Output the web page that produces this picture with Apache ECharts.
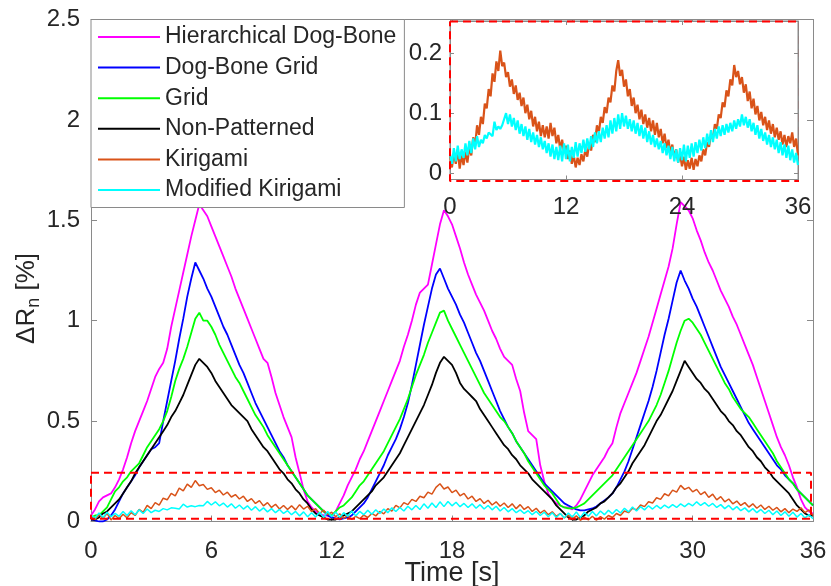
<!DOCTYPE html>
<html>
<head>
<meta charset="utf-8">
<script src="https://cdn.jsdelivr.net/npm/echarts@6/dist/echarts.min.js"></script>
<style>
  html, body { margin: 0; padding: 0; background: #ffffff; }
  #chart { width: 831px; height: 586px; }
</style>
</head>
<body>
<div id="chart"></div>
<script>
// Resistance change ΔRn [%] sampled every 0.2 s over three 12 s load cycles.
const SAMPLE_DT = 0.2;

const seriesNames = [
  'Hierarchical Dog-Bone', 'Dog-Bone Grid', 'Grid',
  'Non-Patterned', 'Kirigami', 'Modified Kirigami'
];

const hierarchicalDogBone = [
  0.03, 0.06, 0.10, 0.12, 0.13, 0.14, 0.17, 0.21, 0.26, 0.32,
  0.39, 0.45, 0.50, 0.55, 0.60, 0.66, 0.72, 0.76, 0.79, 0.86,
  0.97, 1.06, 1.15, 1.24, 1.33, 1.42, 1.50, 1.58, 1.55, 1.52,
  1.47, 1.42, 1.37, 1.32, 1.27, 1.22, 1.16, 1.11, 1.06, 1.01,
  0.96, 0.91, 0.86, 0.81, 0.79, 0.72, 0.64, 0.58, 0.52, 0.47,
  0.42, 0.32, 0.24, 0.16, 0.10, 0.07, 0.05, 0.04, 0.03, 0.03,
  0.02, 0.05, 0.09, 0.13, 0.18, 0.22, 0.26, 0.31, 0.35, 0.40,
  0.45, 0.50, 0.55, 0.60, 0.65, 0.70, 0.75, 0.80, 0.87, 0.93,
  1.00, 1.08, 1.14, 1.16, 1.18, 1.28, 1.38, 1.48, 1.55, 1.52,
  1.48, 1.42, 1.36, 1.29, 1.23, 1.18, 1.13, 1.09, 1.05, 1.00,
  0.95, 0.91, 0.86, 0.82, 0.80, 0.78, 0.71, 0.65, 0.54, 0.45,
  0.43, 0.41, 0.28, 0.20, 0.14, 0.11, 0.09, 0.08, 0.07, 0.07,
  0.06, 0.08, 0.11, 0.15, 0.19, 0.23, 0.26, 0.29, 0.32, 0.36,
  0.39, 0.47, 0.54, 0.59, 0.64, 0.69, 0.74, 0.80, 0.86, 0.92,
  0.99, 1.06, 1.13, 1.20, 1.27, 1.36, 1.48, 1.59, 1.57, 1.55,
  1.51, 1.45, 1.40, 1.34, 1.29, 1.25, 1.20, 1.15, 1.11, 1.07,
  1.02, 0.98, 0.93, 0.88, 0.83, 0.78, 0.72, 0.66, 0.60, 0.54,
  0.48, 0.42, 0.37, 0.33, 0.28, 0.22, 0.17, 0.11, 0.07, 0.05,
  0.04
];

const dogBoneGrid = [
  0.01, 0.005, 0.0, 0.0, 0.01, 0.03, 0.06, 0.10, 0.14, 0.17,
  0.20, 0.23, 0.27, 0.30, 0.33, 0.36, 0.37, 0.39, 0.50, 0.60,
  0.70, 0.80, 0.91, 1.01, 1.12, 1.21, 1.29, 1.25, 1.21, 1.16,
  1.12, 1.07, 1.02, 0.97, 0.93, 0.88, 0.83, 0.78, 0.74, 0.69,
  0.64, 0.59, 0.55, 0.51, 0.47, 0.43, 0.39, 0.35, 0.32, 0.28,
  0.25, 0.22, 0.19, 0.16, 0.13, 0.11, 0.09, 0.07, 0.05, 0.03,
  0.02, 0.015, 0.01, 0.015, 0.02, 0.03, 0.05, 0.07, 0.09, 0.12,
  0.16, 0.20, 0.24, 0.28, 0.33, 0.37, 0.41, 0.46, 0.52, 0.59,
  0.68, 0.78, 0.88, 0.98, 1.07, 1.16, 1.23, 1.26, 1.21, 1.16,
  1.12, 1.08, 1.03, 0.99, 0.94, 0.89, 0.84, 0.80, 0.75, 0.70,
  0.65, 0.60, 0.55, 0.51, 0.47, 0.44, 0.40, 0.37, 0.34, 0.31,
  0.28, 0.25, 0.22, 0.19, 0.17, 0.15, 0.13, 0.11, 0.09, 0.08,
  0.07, 0.06, 0.055, 0.055, 0.06, 0.065, 0.075, 0.09, 0.105, 0.12,
  0.14, 0.17, 0.21, 0.25, 0.30, 0.36, 0.42, 0.48, 0.54, 0.60,
  0.67, 0.75, 0.84, 0.93, 1.01, 1.10, 1.19, 1.25, 1.20, 1.16,
  1.11, 1.07, 1.02, 0.97, 0.92, 0.87, 0.82, 0.77, 0.73, 0.69,
  0.65, 0.61, 0.57, 0.53, 0.49, 0.46, 0.43, 0.40, 0.37, 0.34,
  0.31, 0.28, 0.26, 0.23, 0.21, 0.19, 0.16, 0.14, 0.12, 0.10,
  0.08
];

const grid = [
  0.02, 0.03, 0.03, 0.05, 0.07, 0.11, 0.15, 0.17, 0.20, 0.22,
  0.25, 0.27, 0.29, 0.33, 0.37, 0.40, 0.43, 0.46, 0.50, 0.55,
  0.62, 0.70, 0.76, 0.81, 0.87, 0.94, 1.01, 1.04, 1.00, 1.00,
  0.97, 0.93, 0.88, 0.84, 0.80, 0.76, 0.72, 0.69, 0.65, 0.61,
  0.57, 0.53, 0.50, 0.47, 0.43, 0.40, 0.37, 0.34, 0.31, 0.28,
  0.25, 0.22, 0.19, 0.16, 0.13, 0.11, 0.09, 0.07, 0.05, 0.04,
  0.03, 0.05, 0.07, 0.08, 0.10, 0.12, 0.15, 0.18, 0.20, 0.23,
  0.26, 0.29, 0.32, 0.35, 0.39, 0.43, 0.47, 0.51, 0.56, 0.61,
  0.67, 0.73, 0.78, 0.83, 0.89, 0.94, 0.99, 1.04, 1.05, 1.00,
  0.96, 0.92, 0.88, 0.84, 0.80, 0.76, 0.72, 0.68, 0.64, 0.61,
  0.58, 0.55, 0.52, 0.50, 0.47, 0.44, 0.40, 0.37, 0.34, 0.30,
  0.27, 0.24, 0.21, 0.18, 0.16, 0.14, 0.11, 0.08, 0.07, 0.065,
  0.065, 0.07, 0.08, 0.09, 0.11, 0.13, 0.15, 0.17, 0.19, 0.21,
  0.23, 0.26, 0.29, 0.32, 0.35, 0.38, 0.41, 0.44, 0.47, 0.50,
  0.54, 0.58, 0.63, 0.69, 0.75, 0.82, 0.89, 0.95, 1.00, 1.01,
  0.99, 0.96, 0.93, 0.89, 0.85, 0.81, 0.77, 0.73, 0.69, 0.66,
  0.62, 0.59, 0.56, 0.54, 0.52, 0.49, 0.46, 0.43, 0.40, 0.37,
  0.34, 0.30, 0.27, 0.24, 0.21, 0.19, 0.16, 0.14, 0.12, 0.10,
  0.08
];

const nonPatterned = [
  0.01, 0.01, 0.02, 0.04, 0.05, 0.07, 0.09, 0.11, 0.14, 0.17,
  0.20, 0.24, 0.27, 0.30, 0.33, 0.36, 0.39, 0.42, 0.45, 0.48,
  0.52, 0.55, 0.59, 0.63, 0.68, 0.73, 0.78, 0.81, 0.79, 0.77,
  0.74, 0.70, 0.67, 0.64, 0.61, 0.58, 0.56, 0.54, 0.52, 0.50,
  0.46, 0.43, 0.40, 0.37, 0.35, 0.32, 0.29, 0.26, 0.24, 0.21,
  0.19, 0.16, 0.14, 0.11, 0.09, 0.06, 0.04, 0.03, 0.02, 0.01,
  0.01, 0.01, 0.02, 0.03, 0.04, 0.05, 0.07, 0.09, 0.11, 0.13,
  0.15, 0.18, 0.20, 0.22, 0.25, 0.28, 0.31, 0.34, 0.38, 0.42,
  0.46, 0.50, 0.54, 0.58, 0.63, 0.68, 0.74, 0.79, 0.82, 0.80,
  0.78, 0.74, 0.69, 0.66, 0.64, 0.62, 0.60, 0.56, 0.53, 0.50,
  0.47, 0.44, 0.41, 0.38, 0.36, 0.33, 0.31, 0.28, 0.26, 0.24,
  0.21, 0.19, 0.17, 0.15, 0.13, 0.11, 0.08, 0.06, 0.04, 0.02,
  0.01, 0.01, 0.02, 0.03, 0.05, 0.06, 0.07, 0.09, 0.10, 0.12,
  0.14, 0.17, 0.19, 0.22, 0.25, 0.29, 0.32, 0.35, 0.38, 0.42,
  0.46, 0.50, 0.53, 0.57, 0.61, 0.65, 0.70, 0.75, 0.80, 0.77,
  0.74, 0.71, 0.69, 0.66, 0.64, 0.61, 0.58, 0.55, 0.53, 0.50,
  0.48, 0.45, 0.43, 0.40, 0.37, 0.35, 0.32, 0.30, 0.27, 0.25,
  0.22, 0.20, 0.18, 0.16, 0.14, 0.11, 0.08, 0.06, 0.04, 0.03,
  0.03
];

const kirigami = [
  0.028, 0.010, 0.034, 0.016, 0.040, 0.008, 0.030, 0.014, 0.036, 0.018,
  0.044, 0.030, 0.060, 0.046, 0.080, 0.064, 0.094, 0.082, 0.116, 0.108,
  0.140, 0.128, 0.166, 0.152, 0.186, 0.170, 0.204, 0.178, 0.184, 0.160,
  0.168, 0.144, 0.156, 0.132, 0.146, 0.122, 0.134, 0.112, 0.126, 0.100,
  0.114, 0.090, 0.104, 0.078, 0.094, 0.070, 0.086, 0.062, 0.080, 0.060,
  0.078, 0.058, 0.084, 0.062, 0.076, 0.050, 0.064, 0.040, 0.056, 0.034,
  0.046, 0.024, 0.038, 0.016, 0.030, 0.010, 0.026, 0.014, 0.032, 0.020,
  0.040, 0.028, 0.050, 0.038, 0.064, 0.052, 0.080, 0.068, 0.094, 0.084,
  0.110, 0.100, 0.126, 0.118, 0.146, 0.136, 0.170, 0.188, 0.162, 0.172,
  0.144, 0.156, 0.128, 0.140, 0.112, 0.126, 0.100, 0.114, 0.090, 0.106,
  0.082, 0.098, 0.076, 0.092, 0.070, 0.088, 0.064, 0.084, 0.060, 0.074,
  0.050, 0.066, 0.042, 0.056, 0.034, 0.048, 0.026, 0.040, 0.018, 0.032,
  0.012, 0.028, 0.006, 0.022, 0.008, 0.026, 0.006, 0.024, 0.012, 0.030,
  0.020, 0.040, 0.030, 0.052, 0.044, 0.066, 0.058, 0.082, 0.074, 0.098,
  0.092, 0.118, 0.110, 0.138, 0.128, 0.156, 0.146, 0.180, 0.160, 0.170,
  0.148, 0.160, 0.134, 0.148, 0.120, 0.136, 0.108, 0.124, 0.098, 0.112,
  0.088, 0.102, 0.080, 0.094, 0.072, 0.088, 0.066, 0.082, 0.060, 0.076,
  0.056, 0.070, 0.048, 0.064, 0.044, 0.062, 0.050, 0.068, 0.044, 0.058,
  0.030
];

const modifiedKirigami = [
  0.032, 0.016, 0.042, 0.020, 0.046, 0.024, 0.040, 0.026, 0.050, 0.030,
  0.054, 0.034, 0.058, 0.040, 0.062, 0.044, 0.056, 0.050, 0.064, 0.058,
  0.068, 0.066, 0.062, 0.086, 0.072, 0.078, 0.074, 0.080, 0.078, 0.100,
  0.082, 0.098, 0.078, 0.092, 0.072, 0.088, 0.066, 0.082, 0.062, 0.078,
  0.056, 0.074, 0.052, 0.068, 0.048, 0.064, 0.044, 0.060, 0.040, 0.054,
  0.034, 0.050, 0.028, 0.048, 0.024, 0.044, 0.022, 0.046, 0.020, 0.050,
  0.024, 0.048, 0.020, 0.044, 0.026, 0.052, 0.028, 0.050, 0.034, 0.056,
  0.036, 0.058, 0.040, 0.062, 0.044, 0.068, 0.050, 0.070, 0.052, 0.076,
  0.058, 0.080, 0.060, 0.088, 0.066, 0.092, 0.070, 0.098, 0.074, 0.100,
  0.078, 0.096, 0.074, 0.090, 0.070, 0.088, 0.066, 0.084, 0.062, 0.080,
  0.058, 0.076, 0.052, 0.070, 0.048, 0.064, 0.044, 0.058, 0.040, 0.054,
  0.034, 0.050, 0.030, 0.046, 0.024, 0.044, 0.020, 0.040, 0.018, 0.042,
  0.022, 0.048, 0.020, 0.046, 0.026, 0.050, 0.028, 0.052, 0.034, 0.056,
  0.038, 0.060, 0.042, 0.066, 0.048, 0.072, 0.052, 0.074, 0.058, 0.078,
  0.062, 0.080, 0.064, 0.082, 0.068, 0.084, 0.070, 0.088, 0.074, 0.090,
  0.078, 0.098, 0.080, 0.094, 0.076, 0.090, 0.070, 0.084, 0.064, 0.080,
  0.058, 0.074, 0.054, 0.068, 0.048, 0.064, 0.044, 0.060, 0.040, 0.056,
  0.034, 0.052, 0.030, 0.048, 0.026, 0.046, 0.022, 0.040, 0.018, 0.034,
  0.014
];

// Axis ranges and ticks
const insetValueTicks = [0, 0.1, 0.2];
const insetValueRange = [-0.01, 0.253];

// Zoom window (data units) outlined on the main axes, and the outline round the inset
const zoomWindow = { t: [0, 35.9], v: [0.014, 0.243] };
const insetOutline = { t: [0, 36.2], v: [-0.0125, 0.252] };

const seriesColors = ['#ff00ff', '#0000ff', '#00ff00', '#000000', '#d95319', '#00ffff'];

const FONT = "'Liberation Sans', Arial, Helvetica, sans-serif";
const TEXT = '#262626';
const FRAME = '#8a8a8a';

const timeOf = i => Math.round(i * SAMPLE_DT * 10) / 10;
const toPairs = values => values.map((v, i) => [timeOf(i), v]);
const rectPath = box => [
  [box.t[0], box.v[1]], [box.t[1], box.v[1]], [box.t[1], box.v[0]],
  [box.t[0], box.v[0]], [box.t[0], box.v[1]]
];

const allSeries = [hierarchicalDogBone, dogBoneGrid, grid, nonPatterned, kirigami, modifiedKirigami];

function frameAxis(extra) {
  return Object.assign({
    type: 'value',
    nameMoveOverlap: false,
    axisLine: { show: true, onZero: false, lineStyle: { color: FRAME, width: 1 } },
    axisTick: { show: true, inside: true, length: 6, lineStyle: { color: FRAME } },
    splitLine: { show: false },
    axisLabel: { show: false }
  }, extra);
}

const labelStyle = { show: true, color: TEXT, fontFamily: FONT, fontSize: 24 };

const chart = echarts.init(document.getElementById('chart'), null, { renderer: 'canvas' });

const series = [];
allSeries.forEach((values, k) => {
  series.push({
    name: seriesNames[k],
    type: 'line',
    xAxisIndex: 0, yAxisIndex: 0,
    data: toPairs(values),
    showSymbol: false, symbol: 'none',
    lineStyle: { color: seriesColors[k], width: k >= 4 ? 1.5 : 1.8 },
    itemStyle: { color: seriesColors[k] },
    silent: true, animation: false, z: 2 + k
  });
});
[4, 5].forEach(k => {
  series.push({
    name: seriesNames[k] + ' (inset)',
    type: 'line',
    xAxisIndex: 2, yAxisIndex: 2,
    data: toPairs(allSeries[k]),
    showSymbol: false, symbol: 'none',
    lineStyle: { color: seriesColors[k], width: 2.2 },
    silent: true, animation: false, z: 20 + k
  });
});
series.push({
  name: 'zoom-window', type: 'line', xAxisIndex: 0, yAxisIndex: 0,
  data: rectPath(zoomWindow), showSymbol: false, symbol: 'none', clip: false,
  lineStyle: { color: '#ff0000', width: 2, type: [8, 5] },
  silent: true, animation: false, z: 15
});
series.push({
  name: 'inset-outline', type: 'line', xAxisIndex: 2, yAxisIndex: 2,
  data: rectPath(insetOutline), showSymbol: false, symbol: 'none', clip: false,
  lineStyle: { color: '#ff0000', width: 2, type: [8, 5] },
  silent: true, animation: false, z: 30
});

chart.setOption({
  backgroundColor: '#ffffff',
  animation: false,
  grid: [
    { left: 91, top: 19.5, width: 722, height: 502, show: false,
      containLabel: false, outerBoundsMode: 'none' },
    { left: 450, top: 21, width: 348, height: 158.5, show: true,
      containLabel: false, outerBoundsMode: 'none',
      backgroundColor: '#ffffff', borderColor: FRAME, borderWidth: 1, z: 10 }
  ],
  legend: {
    data: seriesNames,
    orient: 'vertical',
    left: 91, top: 19.5,
    padding: [6, 8, 6, 7],
    itemGap: 7.6,
    itemWidth: 62, itemHeight: 2,
    icon: 'rect',
    backgroundColor: '#ffffff',
    borderColor: FRAME, borderWidth: 1,
    selectedMode: false,
    textStyle: { color: TEXT, fontFamily: FONT, fontSize: 23, lineHeight: 22 },
    z: 40
  },
  xAxis: [
    frameAxis({
      gridIndex: 0, position: 'bottom', min: 0, max: 36, interval: 6,
      axisLabel: Object.assign({ margin: 18 }, labelStyle),
      name: 'Time [s]', nameLocation: 'middle', nameGap: 39,
      nameTextStyle: { color: TEXT, fontFamily: FONT, fontSize: 27 }
    }),
    frameAxis({ gridIndex: 0, position: 'top', min: 0, max: 36, interval: 6 }),
    frameAxis({
      gridIndex: 1, position: 'bottom', min: 0, max: 36, interval: 12,
      axisTick: { show: true, inside: true, length: 4, lineStyle: { color: FRAME } },
      axisLabel: Object.assign({ margin: 16 }, labelStyle), z: 12
    }),
    frameAxis({
      gridIndex: 1, position: 'top', min: 0, max: 36, interval: 12,
      axisTick: { show: true, inside: true, length: 4, lineStyle: { color: FRAME } }, z: 12
    })
  ],
  yAxis: [
    frameAxis({
      gridIndex: 0, position: 'left', min: 0, max: 2.5, interval: 0.5,
      axisLabel: Object.assign({ margin: 11 }, labelStyle),
      name: '{m|ΔR}{s|n}{m| [%]}', nameLocation: 'middle', nameGap: 48,
      nameTextStyle: {
        color: TEXT, fontFamily: FONT, fontSize: 26, padding: [0, 56, 0, 0],
        rich: {
          m: { color: TEXT, fontFamily: FONT, fontSize: 26 },
          s: { color: TEXT, fontFamily: FONT, fontSize: 18, padding: [14, 0, 0, 0] }
        }
      }
    }),
    frameAxis({ gridIndex: 0, position: 'right', min: 0, max: 2.5, interval: 0.5 }),
    frameAxis({
      gridIndex: 1, position: 'left', min: insetValueRange[0], max: insetValueRange[1],
      axisTick: { show: true, inside: true, length: 4, customValues: insetValueTicks, lineStyle: { color: FRAME } },
      axisLabel: Object.assign({ margin: 8, customValues: insetValueTicks }, labelStyle), z: 12
    }),
    frameAxis({
      gridIndex: 1, position: 'right', min: insetValueRange[0], max: insetValueRange[1],
      axisTick: { show: true, inside: true, length: 4, customValues: insetValueTicks, lineStyle: { color: FRAME } }, z: 12
    })
  ],
  series: series
});
</script>
</body>
</html>
